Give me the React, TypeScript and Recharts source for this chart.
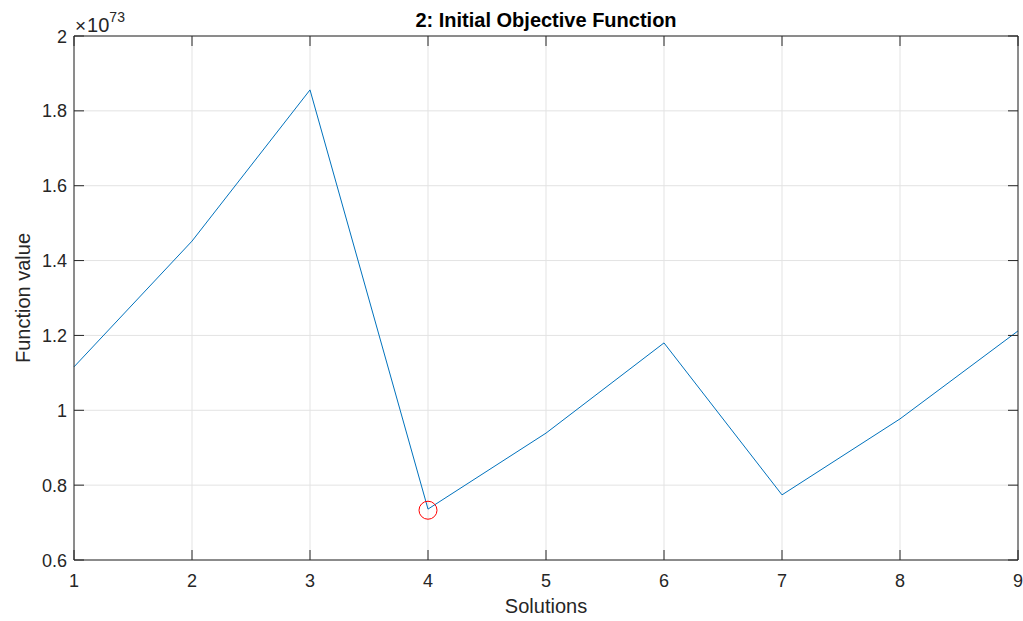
import {
  LineChart,
  Line,
  XAxis,
  YAxis,
  CartesianGrid,
  ReferenceDot,
} from 'recharts';

// values are mantissas, the axis carries the x10^73 factor
const solutions = [1, 2, 3, 4, 5, 6, 7, 8, 9];
const functionValues = [1.116, 1.452, 1.856, 0.736, 0.939, 1.18, 0.774, 0.977, 1.212];
const xTicks = [1, 2, 3, 4, 5, 6, 7, 8, 9];
const yTicks = [0.6, 0.8, 1, 1.2, 1.4, 1.6, 1.8, 2];
const exponent = 73;
const bestSolution = 4;
const bestValue = 0.733;

const data = solutions.map((s, i) => ({ x: s, y: functionValues[i] }));

const W = 1023;
const H = 621;
const FONT = '"Liberation Sans", Arial, Helvetica, sans-serif';
const AXIS = '#262626';
const TICK_LEN = 10;

const fmt = (v: number) => String(Number(v.toFixed(1)));

// ticks point inwards, like a boxed matlab axes
const BottomTick = (props: any) => {
  const { x, y, payload } = props;
  return (
    <g>
      <line x1={x} y1={y} x2={x} y2={y - TICK_LEN} stroke={AXIS} />
      <text x={x} y={y + 27} textAnchor="middle" fontSize={18} fontFamily={FONT} fill={AXIS}>
        {fmt(payload.value)}
      </text>
    </g>
  );
};

const TopTick = (props: any) => {
  const { x, y } = props;
  return <line x1={x} y1={y} x2={x} y2={y + TICK_LEN} stroke={AXIS} />;
};

const LeftTick = (props: any) => {
  const { x, y, payload } = props;
  return (
    <g>
      <line x1={x} y1={y} x2={x + TICK_LEN} y2={y} stroke={AXIS} />
      <text x={x - 7} y={y + 6.5} textAnchor="end" fontSize={18} fontFamily={FONT} fill={AXIS}>
        {fmt(payload.value)}
      </text>
    </g>
  );
};

const RightTick = (props: any) => {
  const { x, y } = props;
  return <line x1={x} y1={y} x2={x - TICK_LEN} y2={y} stroke={AXIS} />;
};

export default function App() {
  return (
    <div style={{ position: 'absolute', left: 0, top: 0, width: W, height: H, background: '#fff' }}>
      <LineChart
        width={W}
        height={H}
        data={data}
        margin={{ top: 35, right: 4, bottom: 31, left: 14 }}
      >
        <CartesianGrid stroke="#e3e3e3" strokeWidth={1} />
        <XAxis
          dataKey="x"
          type="number"
          domain={[1, 9]}
          ticks={xTicks}
          height={30}
          tickSize={0}
          tickMargin={0}
          tickLine={false}
          axisLine={{ stroke: AXIS }}
          tick={BottomTick}
          interval={0}
        />
        <XAxis
          xAxisId="top"
          orientation="top"
          dataKey="x"
          type="number"
          domain={[1, 9]}
          ticks={xTicks}
          height={1}
          tickSize={0}
          tickMargin={0}
          tickLine={false}
          axisLine={{ stroke: AXIS }}
          tick={TopTick}
          interval={0}
        />
        <YAxis
          type="number"
          domain={[0.6, 2]}
          ticks={yTicks}
          width={60}
          tickSize={0}
          tickMargin={0}
          tickLine={false}
          axisLine={{ stroke: AXIS }}
          tick={LeftTick}
          interval={0}
        />
        <YAxis
          yAxisId="right"
          orientation="right"
          type="number"
          domain={[0.6, 2]}
          ticks={yTicks}
          width={1}
          tickSize={0}
          tickMargin={0}
          tickLine={false}
          axisLine={{ stroke: AXIS }}
          tick={RightTick}
          interval={0}
        />
        {/* invisible copy so the mirrored axes have data */}
        <Line
          xAxisId="top"
          yAxisId="right"
          dataKey="y"
          stroke="none"
          dot={false}
          activeDot={false}
          isAnimationActive={false}
        />
        <Line
          dataKey="y"
          type="linear"
          stroke="#0072BD"
          strokeWidth={1}
          dot={false}
          activeDot={false}
          isAnimationActive={false}
        />
        <ReferenceDot
          x={bestSolution}
          y={bestValue}
          r={9}
          fill="none"
          stroke="#FF0000"
          strokeWidth={1}
        />
      </LineChart>
      <svg
        width={W}
        height={H}
        style={{ position: 'absolute', left: 0, top: 0, pointerEvents: 'none' }}
      >
        <text x={546} y={27} textAnchor="middle" fontSize={20} fontWeight="bold" fontFamily={FONT} fill="#000">
          2: Initial Objective Function
        </text>
        <text x={546} y={613} textAnchor="middle" fontSize={20} fontFamily={FONT} fill={AXIS}>
          Solutions
        </text>
        <text
          x={30}
          y={298}
          transform="rotate(-90 30 298)"
          textAnchor="middle"
          fontSize={20}
          fontFamily={FONT}
          fill={AXIS}
        >
          Function value
        </text>
        <text x={75} y={32} fontSize={20} fontFamily={FONT} fill={AXIS}>
          <tspan fontWeight={300} fontSize={19}>×</tspan>
          <tspan dx={1}>10</tspan>
          <tspan fontSize={14} dy={-10}>
            {exponent}
          </tspan>
        </text>
      </svg>
    </div>
  );
}
